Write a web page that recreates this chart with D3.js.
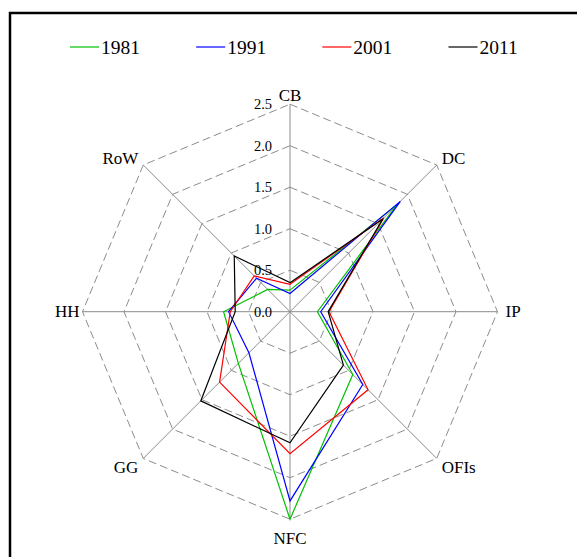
<!DOCTYPE html>
<html>
<head>
<meta charset="utf-8">
<script src="https://cdn.jsdelivr.net/npm/d3@7"></script>
<style>
  html, body { margin: 0; padding: 0; background: #fff; }
  svg { display: block; }
</style>
</head>
<body>
<svg id="chart" width="577" height="557" font-family="'Liberation Serif', 'Times New Roman', Times, serif"></svg>
<script>
// Sector axes, clockwise from the top
const sectors = ["CB", "DC", "IP", "OFIs", "NFC", "GG", "HH", "RoW"];

// Values per year, in the same order as the sectors
const v1981 = [0.26, 1.82, 0.33, 1.07, 2.50, 0.88, 0.80, 0.38];
const v1991 = [0.22, 1.88, 0.37, 1.24, 2.28, 0.70, 0.74, 0.57];
const v2001 = [0.33, 1.60, 0.47, 1.33, 1.71, 1.20, 0.72, 0.61];
const v2011 = [0.35, 1.58, 0.46, 0.91, 1.58, 1.52, 0.66, 0.95];

const years = ["1981", "1991", "2001", "2011"];
const colors = ["#00c000", "#0000ff", "#ff0000", "#000000"];

// Ring values of the radial scale
const ticks = [0.0, 0.5, 1.0, 1.5, 2.0, 2.5];

const svg = d3.select("#chart");
const cx = 290, cy = 311.7, R = 207.5;
const r = d3.scaleLinear().domain([0, 2.5]).range([0, R]);
const angle = i => i * 2 * Math.PI / sectors.length;
const pt = (i, v) => [cx + r(v) * Math.sin(angle(i)), cy - r(v) * Math.cos(angle(i))];

// Outer frame (only the top and left edges fall inside the page)
svg.append("rect")
  .attr("x", 10).attr("y", 13)
  .attr("width", 600).attr("height", 600)
  .attr("fill", "none").attr("stroke", "#000").attr("stroke-width", 2.5);

// Dashed octagonal rings
const g = svg.append("g");
ticks.filter(t => t > 0).forEach(t => {
  g.append("path")
    .attr("d", d3.line()(sectors.map((s, i) => pt(i, t))) + "Z")
    .attr("fill", "none")
    .attr("stroke", "#8c8c8c")
    .attr("stroke-width", 1)
    .attr("stroke-dasharray", "8,4");
});

// Spokes
sectors.forEach((s, i) => {
  const [x, y] = pt(i, 2.5);
  g.append("line")
    .attr("x1", cx).attr("y1", cy).attr("x2", x).attr("y2", y)
    .attr("stroke", "#8c8c8c").attr("stroke-width", 1);
});

// Radial tick labels along the CB spoke
ticks.forEach(t => {
  g.append("text")
    .attr("x", cx - 18).attr("y", cy - r(t))
    .attr("dy", "0.35em")
    .attr("text-anchor", "end")
    .attr("font-size", 14.5)
    .text(t.toFixed(1));
});

// Sector labels
sectors.forEach((s, i) => {
  const [x, y] = pt(i, 2.5);
  const sn = Math.sin(angle(i)), cs = Math.cos(angle(i));
  let anchor = "middle", dx = 0, dy = 0;
  if (sn > 0.1) { anchor = "start"; dx = sn > 0.9 ? 8 : 5; }
  else if (sn < -0.1) { anchor = "end"; dx = sn < -0.9 ? -3 : -5; }
  if (cs > 0.9) dy = -3;
  else if (cs > 0.1) dy = -1;
  else if (cs < -0.9) dy = 25;
  else if (cs < -0.1) dy = 15;
  else dy = 5.5;
  svg.append("text")
    .attr("x", x + dx).attr("y", y + dy)
    .attr("text-anchor", anchor)
    .attr("font-size", 17)
    .text(s);
});

// Series polygons
const series = [v1981, v1991, v2001, v2011];
series.forEach((vals, k) => {
  svg.append("path")
    .attr("d", d3.line()(vals.map((v, i) => pt(i, v))) + "Z")
    .attr("fill", "none")
    .attr("stroke", colors[k])
    .attr("stroke-width", 1.2)
    .attr("stroke-linejoin", "miter");
});

// Legend
const lx = d3.scalePoint().domain(years).range([70, 448.5]);
years.forEach((y, k) => {
  const x0 = lx(y);
  svg.append("line")
    .attr("x1", x0).attr("x2", x0 + 29)
    .attr("y1", 47).attr("y2", 47)
    .attr("stroke", colors[k]).attr("stroke-width", 1.2);
  svg.append("text")
    .attr("x", x0 + 31).attr("y", 53.5)
    .attr("font-size", 19.5)
    .text(y);
});
</script>
</body>
</html>
